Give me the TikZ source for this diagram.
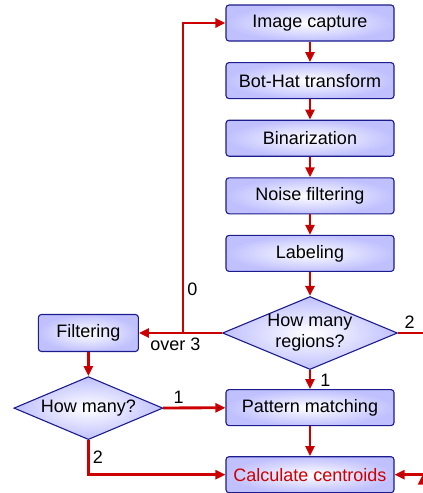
\documentclass[tikz,border=0pt]{standalone}
\usepackage{fontspec}
\setmainfont{Liberation Sans}
\usetikzlibrary{arrows.meta,positioning,shapes}
\definecolor{flowred}{RGB}{204,0,0}
\definecolor{boxblue}{RGB}{28,28,140}
\definecolor{boxfill}{RGB}{192,192,255}

\begin{document}
\begin{tikzpicture}[x=1pt, y=-1pt, ->, >={Triangle[length=10pt,width=9pt]}, node distance=20.5pt,
    every node/.style={font=\fontsize{18}{21}\selectfont},
    stage/.style={draw=boxblue, line width=1.1pt, rounded corners=3pt, minimum width=168pt,
      minimum height=36pt, inner color=white, outer color=boxfill},
    decision/.style={diamond, draw=boxblue, line width=1.1pt, shape aspect=2.4, inner sep=0pt,
      align=center, inner color=white, outer color=boxfill},
    flow/.style={draw=flowred, line width=2.8pt},
    tag/.style={inner sep=3pt}
    ]
\useasboundingbox (0,0) rectangle (423,493);
% main chain
\node[stage] (capture) at (310,23) {Image capture};
\node[stage, below=of capture] (bothat)  {Bot-Hat transform};
\node[stage, below=of bothat]  (binar)   {Binarization};
\node[stage, below=of binar]   (noise)   {Noise filtering};
\node[stage, below=of noise]   (labels)  {Labeling};
\node[decision, minimum width=175pt, minimum height=73pt, below=24pt of labels] (regions) {How many\\regions?};
\node[stage, below=19pt of regions] (match) {Pattern matching};
\node[stage, below=30pt of match, text=flowred] (centroid) {Calculate centroids};
% side branch
\node[stage, minimum width=100pt, minimum height=37pt, left=83pt of regions.west] (filter) {Filtering};
\node[decision, minimum width=149pt, minimum height=63pt, below=24pt of filter] (howmany) {How many?};

\coordinate (junc)    at ([xshift=-39pt]regions.west);
\coordinate (exitR)   at ([xshift=26pt]regions.east);
\coordinate (enterR)  at ([xshift=28pt]centroid.east);

\path[flow]
(capture) edge (bothat)
(bothat)  edge (binar)
(binar)   edge (noise)
(noise)   edge (labels)
(labels)  edge (regions)
(regions) edge node[tag, right, xshift=6pt, pos=0.55] {1} (match)
(match)   edge (centroid)
(filter)  edge (howmany)
(howmany) edge node[tag, above, pos=0.25] {1} (match)
(enterR)  edge (centroid)
;
\draw[flow] (regions.west) -- node[below, pos=0.56] {over 3} (filter.east);
\draw[flow] (junc) |- node[tag, right, pos=0.07] {0} (capture.west);
\draw[flow, -] (regions.east) -- node[tag, above, pos=0.45] {2} (exitR);
\draw[flow] (howmany.south) |- node[tag, right, pos=0.24] {2} (centroid.west);
\end{tikzpicture}
\end{document}
